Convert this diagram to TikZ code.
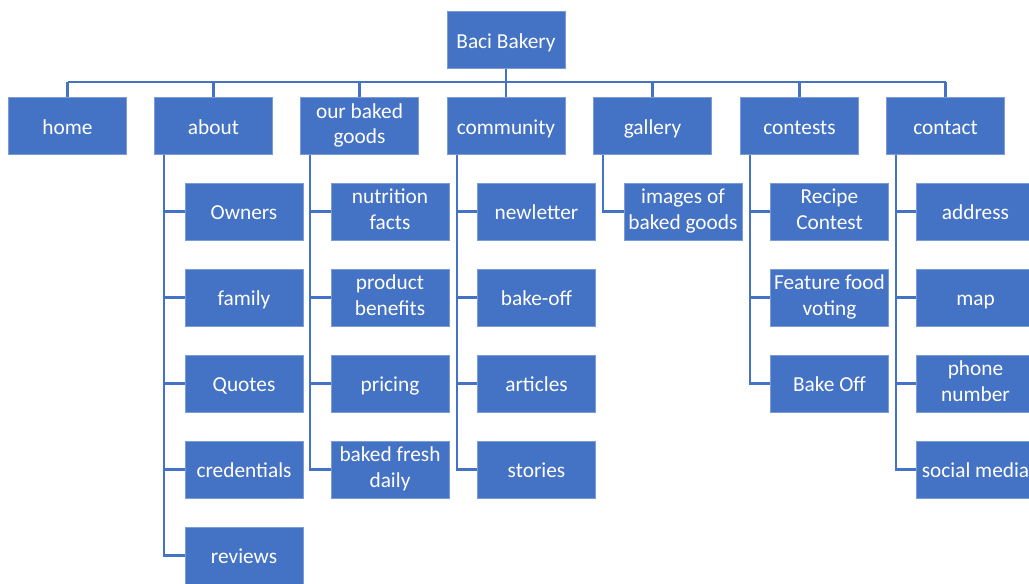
\documentclass[tikz,border=0pt]{standalone}
\usepackage{fontspec}
\setmainfont{Carlito}
\usetikzlibrary{positioning}
\definecolor{bakeblue}{HTML}{4472C4}
\tikzset{
    pagebox/.style = {rectangle, fill=bakeblue, draw=bakeblue!70!white, line width=0.4pt, align=center, text=white, minimum width=88.5pt, minimum height=42.75pt, inner sep=1pt, font=\fontsize{16}{19}\selectfont, execute at begin node={\rule{0pt}{15.5pt}}, execute at end node={\rule[-3.5pt]{0pt}{3.5pt}}},
    edgeb/.style = {-, line width=1.6pt, bakeblue}, % tree lines
}

\begin{document}
\begin{tikzpicture}[x=0.75pt,y=-0.75pt]
\useasboundingbox (0,0) rectangle (1029,583);

% top
\node[pagebox] at (506,40) (root) {Baci Bakery};
\coordinate (bar) at (506,82);
%
\node[pagebox] at (67.5,126) (home) {home};
\node[pagebox] at (213.5,126) (about) {about};
\node[pagebox] at (359.5,126) (goods) {our baked\\goods};
\node[pagebox] at (506,126) (community) {community};
\node[pagebox] at (652.5,126) (gallery) {gallery};
\node[pagebox] at (799.5,126) (contests) {contests};
\node[pagebox] at (945.5,126) (contact) {contact};
%
\draw[edgeb] (root.south) -- (bar);
\draw[edgeb] (bar -| home.north) -- (bar -| contact.north);
\draw[edgeb] (bar -| home.north) -- (home.north);
\draw[edgeb] (bar -| about.north) -- (about.north);
\draw[edgeb] (bar -| goods.north) -- (goods.north);
\draw[edgeb] (bar -| community.north) -- (community.north);
\draw[edgeb] (bar -| gallery.north) -- (gallery.north);
\draw[edgeb] (bar -| contests.north) -- (contests.north);
\draw[edgeb] (bar -| contact.north) -- (contact.north);

% about
\node[pagebox] at (244,211.5) (owners) {Owners};
\node[pagebox] at (244,297.5) (family) {family};
\node[pagebox] at (244,383.5) (quotes) {Quotes};
\node[pagebox] at (244,469.5) (credentials) {credentials};
\node[pagebox] at (244,555.5) (reviews) {reviews};
\draw[edgeb] ([xshift=7.5pt]about.south west) |- (owners.west);
\draw[edgeb] ([xshift=7.5pt]about.south west) |- (family.west);
\draw[edgeb] ([xshift=7.5pt]about.south west) |- (quotes.west);
\draw[edgeb] ([xshift=7.5pt]about.south west) |- (credentials.west);
\draw[edgeb] ([xshift=7.5pt]about.south west) |- (reviews.west);

% our baked goods
\node[pagebox] at (390,211.5) (nutrition) {nutrition\\facts};
\node[pagebox] at (390,297.5) (benefits) {product\\benefits};
\node[pagebox] at (390,383.5) (pricing) {pricing};
\node[pagebox] at (390,469.5) (fresh) {baked fresh\\daily};
\draw[edgeb] ([xshift=7.5pt]goods.south west) |- (nutrition.west);
\draw[edgeb] ([xshift=7.5pt]goods.south west) |- (benefits.west);
\draw[edgeb] ([xshift=7.5pt]goods.south west) |- (pricing.west);
\draw[edgeb] ([xshift=7.5pt]goods.south west) |- (fresh.west);

% community
\node[pagebox] at (536.5,211.5) (newletter) {newletter};
\node[pagebox] at (536.5,297.5) (bakeoff) {bake-off};
\node[pagebox] at (536.5,383.5) (articles) {articles};
\node[pagebox] at (536.5,469.5) (stories) {stories};
\draw[edgeb] ([xshift=7.5pt]community.south west) |- (newletter.west);
\draw[edgeb] ([xshift=7.5pt]community.south west) |- (bakeoff.west);
\draw[edgeb] ([xshift=7.5pt]community.south west) |- (articles.west);
\draw[edgeb] ([xshift=7.5pt]community.south west) |- (stories.west);

% gallery
\node[pagebox] at (683,211.5) (images) {images of\\baked goods};
\draw[edgeb] ([xshift=7.5pt]gallery.south west) |- (images.west);

% contests
\node[pagebox] at (829.5,211.5) (recipe) {Recipe\\Contest};
\node[pagebox] at (829.5,297.5) (voting) {Feature food\\voting};
\node[pagebox] at (829.5,383.5) (bakeoff2) {Bake Off};
\draw[edgeb] ([xshift=7.5pt]contests.south west) |- (recipe.west);
\draw[edgeb] ([xshift=7.5pt]contests.south west) |- (voting.west);
\draw[edgeb] ([xshift=7.5pt]contests.south west) |- (bakeoff2.west);

% contact
\node[pagebox] at (975.5,211.5) (address) {address};
\node[pagebox] at (975.5,297.5) (map) {map};
\node[pagebox] at (975.5,383.5) (phone) {phone\\number};
\node[pagebox] at (975.5,469.5) (social) {social media};
\draw[edgeb] ([xshift=7.5pt]contact.south west) |- (address.west);
\draw[edgeb] ([xshift=7.5pt]contact.south west) |- (map.west);
\draw[edgeb] ([xshift=7.5pt]contact.south west) |- (phone.west);
\draw[edgeb] ([xshift=7.5pt]contact.south west) |- (social.west);

\end{tikzpicture}
\end{document}
